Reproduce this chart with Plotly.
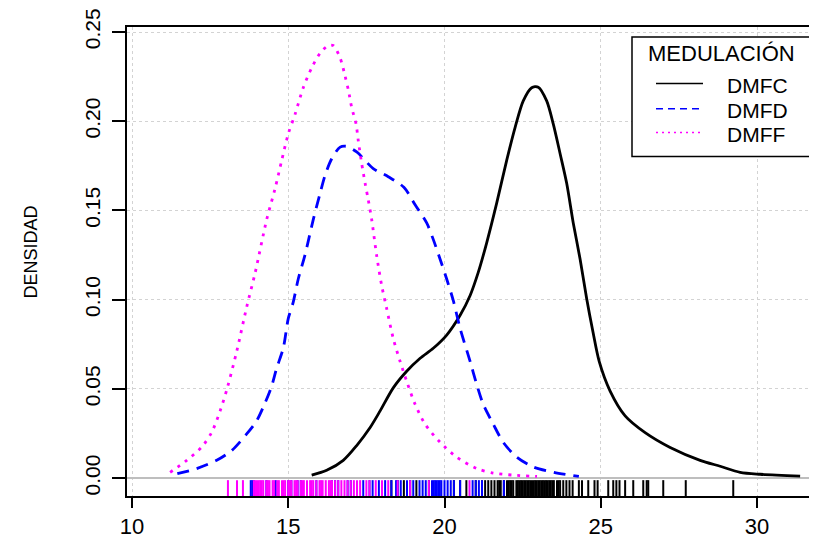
import plotly.graph_objects as go

# ---------------- data ----------------
x_ticks = [10, 15, 20, 25, 30]
y_ticks = [0.00, 0.05, 0.10, 0.15, 0.20, 0.25]
y_tick_labels = ["0.00", "0.05", "0.10", "0.15", "0.20", "0.25"]

series_names = ["DMFC", "DMFD", "DMFF"]
legend_title = "MEDULACIÓN"
y_title = "DENSIDAD"

dmfc_x = [15.75, 16.23, 16.76, 17.19, 17.62, 17.94, 18.36, 18.79, 19.22, 19.64, 20.07, 20.5,
          20.82, 21.08, 21.35, 21.67, 21.99, 22.26, 22.52, 22.79, 23.0, 23.27, 23.48, 23.7,
          23.91, 24.12, 24.34, 24.55, 24.75, 24.95, 25.3, 25.78, 26.42, 27.22, 28.18, 28.82,
          29.46, 30.1, 31.38]
dmfc_y = [0.0017, 0.0044, 0.010, 0.0183, 0.0284, 0.0377, 0.0506, 0.0599, 0.0672, 0.0728,
          0.0802, 0.0913, 0.1024, 0.1153, 0.1319, 0.1541, 0.1781, 0.1966, 0.2114, 0.2188,
          0.2191, 0.2114, 0.1985, 0.1818, 0.1652, 0.143, 0.1227, 0.1005, 0.082, 0.0654,
          0.0488, 0.0349, 0.0255, 0.0172, 0.010, 0.0067, 0.0033, 0.0022, 0.0011]

dmfd_x = [11.45, 12.07, 12.71, 13.19, 13.67, 13.99, 14.26, 14.47, 14.63, 14.84, 15.0, 15.16,
          15.32, 15.54, 15.8, 16.02, 16.18, 16.39, 16.66, 16.87, 17.19, 17.72, 18.2, 18.7,
          19.06, 19.43, 19.64, 19.86, 20.07, 20.28, 20.5, 20.82, 21.03, 21.24, 21.56, 21.88,
          22.31, 22.84, 23.5, 24.3]
dmfd_y = [0.0025, 0.0054, 0.010, 0.0155, 0.0248, 0.0322, 0.0423, 0.0516, 0.0617, 0.0728,
          0.0894, 0.0987, 0.1116, 0.1254, 0.1449, 0.1597, 0.1698, 0.179, 0.1855, 0.1859,
          0.1828, 0.1735, 0.1689, 0.163, 0.1532, 0.143, 0.1338, 0.1227, 0.1116, 0.0996,
          0.0839, 0.0654, 0.0525, 0.0414, 0.0303, 0.0201, 0.0118, 0.0063, 0.0033, 0.001]

dmff_x = [11.22, 11.75, 12.23, 12.55, 12.82, 13.05, 13.35, 13.67, 13.94, 14.31, 14.58, 14.79,
          15.0, 15.22, 15.48, 15.75, 16.02, 16.28, 16.44, 16.66, 16.82, 16.93, 17.03, 17.17,
          17.24, 17.35, 17.46, 17.56, 17.67, 17.83, 17.99, 18.15, 18.36, 18.58, 18.79, 19.06,
          19.38, 19.86, 20.39, 21.03, 21.56, 22.2, 22.96]
dmff_y = [0.0033, 0.010, 0.0174, 0.0257, 0.0377, 0.0506, 0.071, 0.0959, 0.115, 0.1449,
          0.1624, 0.178, 0.1929, 0.204, 0.2188, 0.2299, 0.2382, 0.2424, 0.2424, 0.2354,
          0.2252, 0.2169, 0.2077, 0.1985, 0.1892, 0.1763, 0.1652, 0.156, 0.1449, 0.1246,
          0.1079, 0.095, 0.0783, 0.0654, 0.0543, 0.0414, 0.0303, 0.0201, 0.0118, 0.0054,
          0.0029, 0.0017, 0.001]

# raw observations (rug)
rug_dmfc = [18.3, 18.5, 18.7, 18.9, 19.1, 19.5, 20.3, 20.5, 20.7, 21.0, 21.2, 21.3, 21.4,
            21.5, 21.6, 21.7, 21.75, 21.8, 21.9, 22.0, 22.05, 22.1, 22.15, 22.2, 22.3, 22.35,
            22.4, 22.45, 22.5, 22.55, 22.6, 22.65, 22.7, 22.75, 22.8, 22.85, 22.9, 22.95,
            23.0, 23.05, 23.1, 23.15, 23.2, 23.25, 23.3, 23.35, 23.4, 23.45, 23.5, 23.6,
            23.65, 23.7, 23.8, 23.9, 24.0, 24.1, 24.3, 24.4, 24.6, 24.8, 24.9, 25.24, 25.4,
            25.5, 25.6, 25.78, 26.04, 26.36, 26.47, 26.52, 27.0, 27.72, 29.24]
rug_dmfd = [13.8, 13.85, 13.9, 14.3, 14.6, 15.0, 15.1, 15.3, 15.4, 15.9, 16.4, 16.5, 16.6,
            16.9, 17.0, 17.4, 17.6, 17.7, 17.9, 18.1, 18.3, 18.45, 18.5, 18.6, 18.8, 18.9,
            19.0, 19.2, 19.3, 19.4, 19.6, 19.65, 19.7, 19.75, 19.8, 19.85, 19.9, 20.0, 20.1,
            20.2, 20.3, 20.5, 20.9, 21.0, 21.1, 21.2, 21.9]
rug_dmff = [13.07, 13.36, 13.55, 13.9, 13.95, 14.0, 14.05, 14.1, 14.15, 14.2, 14.3, 14.35,
            14.4, 14.5, 14.55, 14.65, 14.7, 14.8, 14.85, 14.9, 15.0, 15.05, 15.1, 15.2,
            15.25, 15.3, 15.4, 15.45, 15.5, 15.6, 15.7, 15.75, 15.8, 15.9, 16.0, 16.05, 16.1,
            16.2, 16.3, 16.35, 16.4, 16.5, 16.6, 16.7, 16.8, 16.9, 17.0, 17.1, 17.2, 17.3,
            17.5, 17.6, 17.8, 18.0, 18.2, 18.5, 18.9, 19.5, 20.8]

# ---------------- layout geometry ----------------
# the page body adds an 8px offset; geometry below is given in page pixels
OFF = 8
W, H = 817 - OFF, 544 - OFF
PL, PT, PB, PR = 127, 22, 496, 817          # plot box in page pixels
L, T, B, R = PL - OFF, PT - OFF, (544 - PB), 0
PW, PH = PR - PL, PB - PT
X_RANGE = [9.84, 31.92]
Y_RANGE = [-0.00998, 0.2528]
FONT = "Liberation Sans, Arial, sans-serif"

def px(xp):
    return (xp - PL) / PW

def py(yp):
    return (PB - yp) / PH

colors = ["#000000", "#0000FF", "#FF00FF"]
dashes = ["solid", "12px,8px", "3px,6px"]

fig = go.Figure()

# rug
rug_lo, rug_hi = -0.0100, -0.0011
for vals, c in zip([rug_dmfc, rug_dmfd, rug_dmff], colors):
    xs, ys = [], []
    for v in vals:
        xs += [v, v, None]
        ys += [rug_lo, rug_hi, None]
    fig.add_trace(go.Scatter(x=xs, y=ys, mode="lines", line=dict(color=c, width=2),
                             showlegend=False, hoverinfo="skip"))

# density curves
for name, xs, ys, c, d in zip(series_names, [dmfc_x, dmfd_x, dmff_x],
                              [dmfc_y, dmfd_y, dmff_y], colors, dashes):
    fig.add_trace(go.Scatter(x=xs, y=ys, mode="lines", name=name,
                             line=dict(color=c, width=2.8, dash=d, shape="spline", smoothing=0.8),
                             showlegend=False))

fig.update_xaxes(range=X_RANGE, tickmode="array", tickvals=x_ticks,
                 ticktext=[str(v) for v in x_ticks], ticks="outside", ticklen=10,
                 tickwidth=1.5, tickcolor="black", showline=True, linecolor="black",
                 linewidth=1.5, mirror=True, showgrid=True, gridcolor="#d3d3d3",
                 griddash="dot", gridwidth=1, zeroline=False,
                 tickfont=dict(family=FONT, size=22, color="black"),
                 ticklabelstandoff=0)
fig.update_yaxes(range=Y_RANGE, tickmode="array", tickvals=y_ticks, ticktext=y_tick_labels,
                 ticks="outside", ticklen=13, tickwidth=1.5, tickcolor="black",
                 showline=True, linecolor="black", linewidth=1.5, mirror=False,
                 showgrid=True, gridcolor="#d3d3d3", griddash="dot", gridwidth=1,
                 zeroline=True, zerolinecolor="#bebebe", zerolinewidth=1.5,
                 tickangle=-90, tickfont=dict(family=FONT, size=21, color="black"),
                 ticklabelstandoff=4, ticklabeloverflow="allow")

shapes = []
annotations = []
# legend box
shapes.append(dict(type="rect", xref="paper", yref="paper", x0=px(632), x1=px(812),
                   y0=py(153), y1=py(32), line=dict(color="black", width=1.5),
                   fillcolor="white", layer="above"))
annotations.append(dict(text=legend_title, xref="paper", yref="paper", x=px(721), y=py(49),
                        xanchor="center", yanchor="middle", showarrow=False,
                        font=dict(family=FONT, size=22, color="black")))
leg_y = [79, 104.5, 128.5]
leg_dash = ["solid", "7px,5px", "2px,4px"]
for name, c, d, yy in zip(series_names, colors, leg_dash, leg_y):
    shapes.append(dict(type="line", xref="paper", yref="paper", x0=px(656), x1=px(703),
                       y0=py(yy), y1=py(yy), line=dict(color=c, width=1.5, dash=d),
                       layer="above"))
    annotations.append(dict(text=name, xref="paper", yref="paper", x=px(725), y=py(yy + 2),
                            xanchor="left", yanchor="middle", showarrow=False,
                            font=dict(family=FONT, size=21, color="black")))
# y-axis title
annotations.append(dict(text=y_title, xref="paper", yref="paper", x=px(31), y=py(250),
                        xanchor="center", yanchor="middle", textangle=-90, showarrow=False,
                        font=dict(family=FONT, size=18, color="black")))

fig.update_layout(width=W, height=H, margin=dict(l=L, r=R, t=T, b=B, pad=0),
                  paper_bgcolor="white", plot_bgcolor="white", showlegend=False,
                  shapes=shapes, annotations=annotations,
                  font=dict(family=FONT, color="black"))

fig.write_html("out.html")
